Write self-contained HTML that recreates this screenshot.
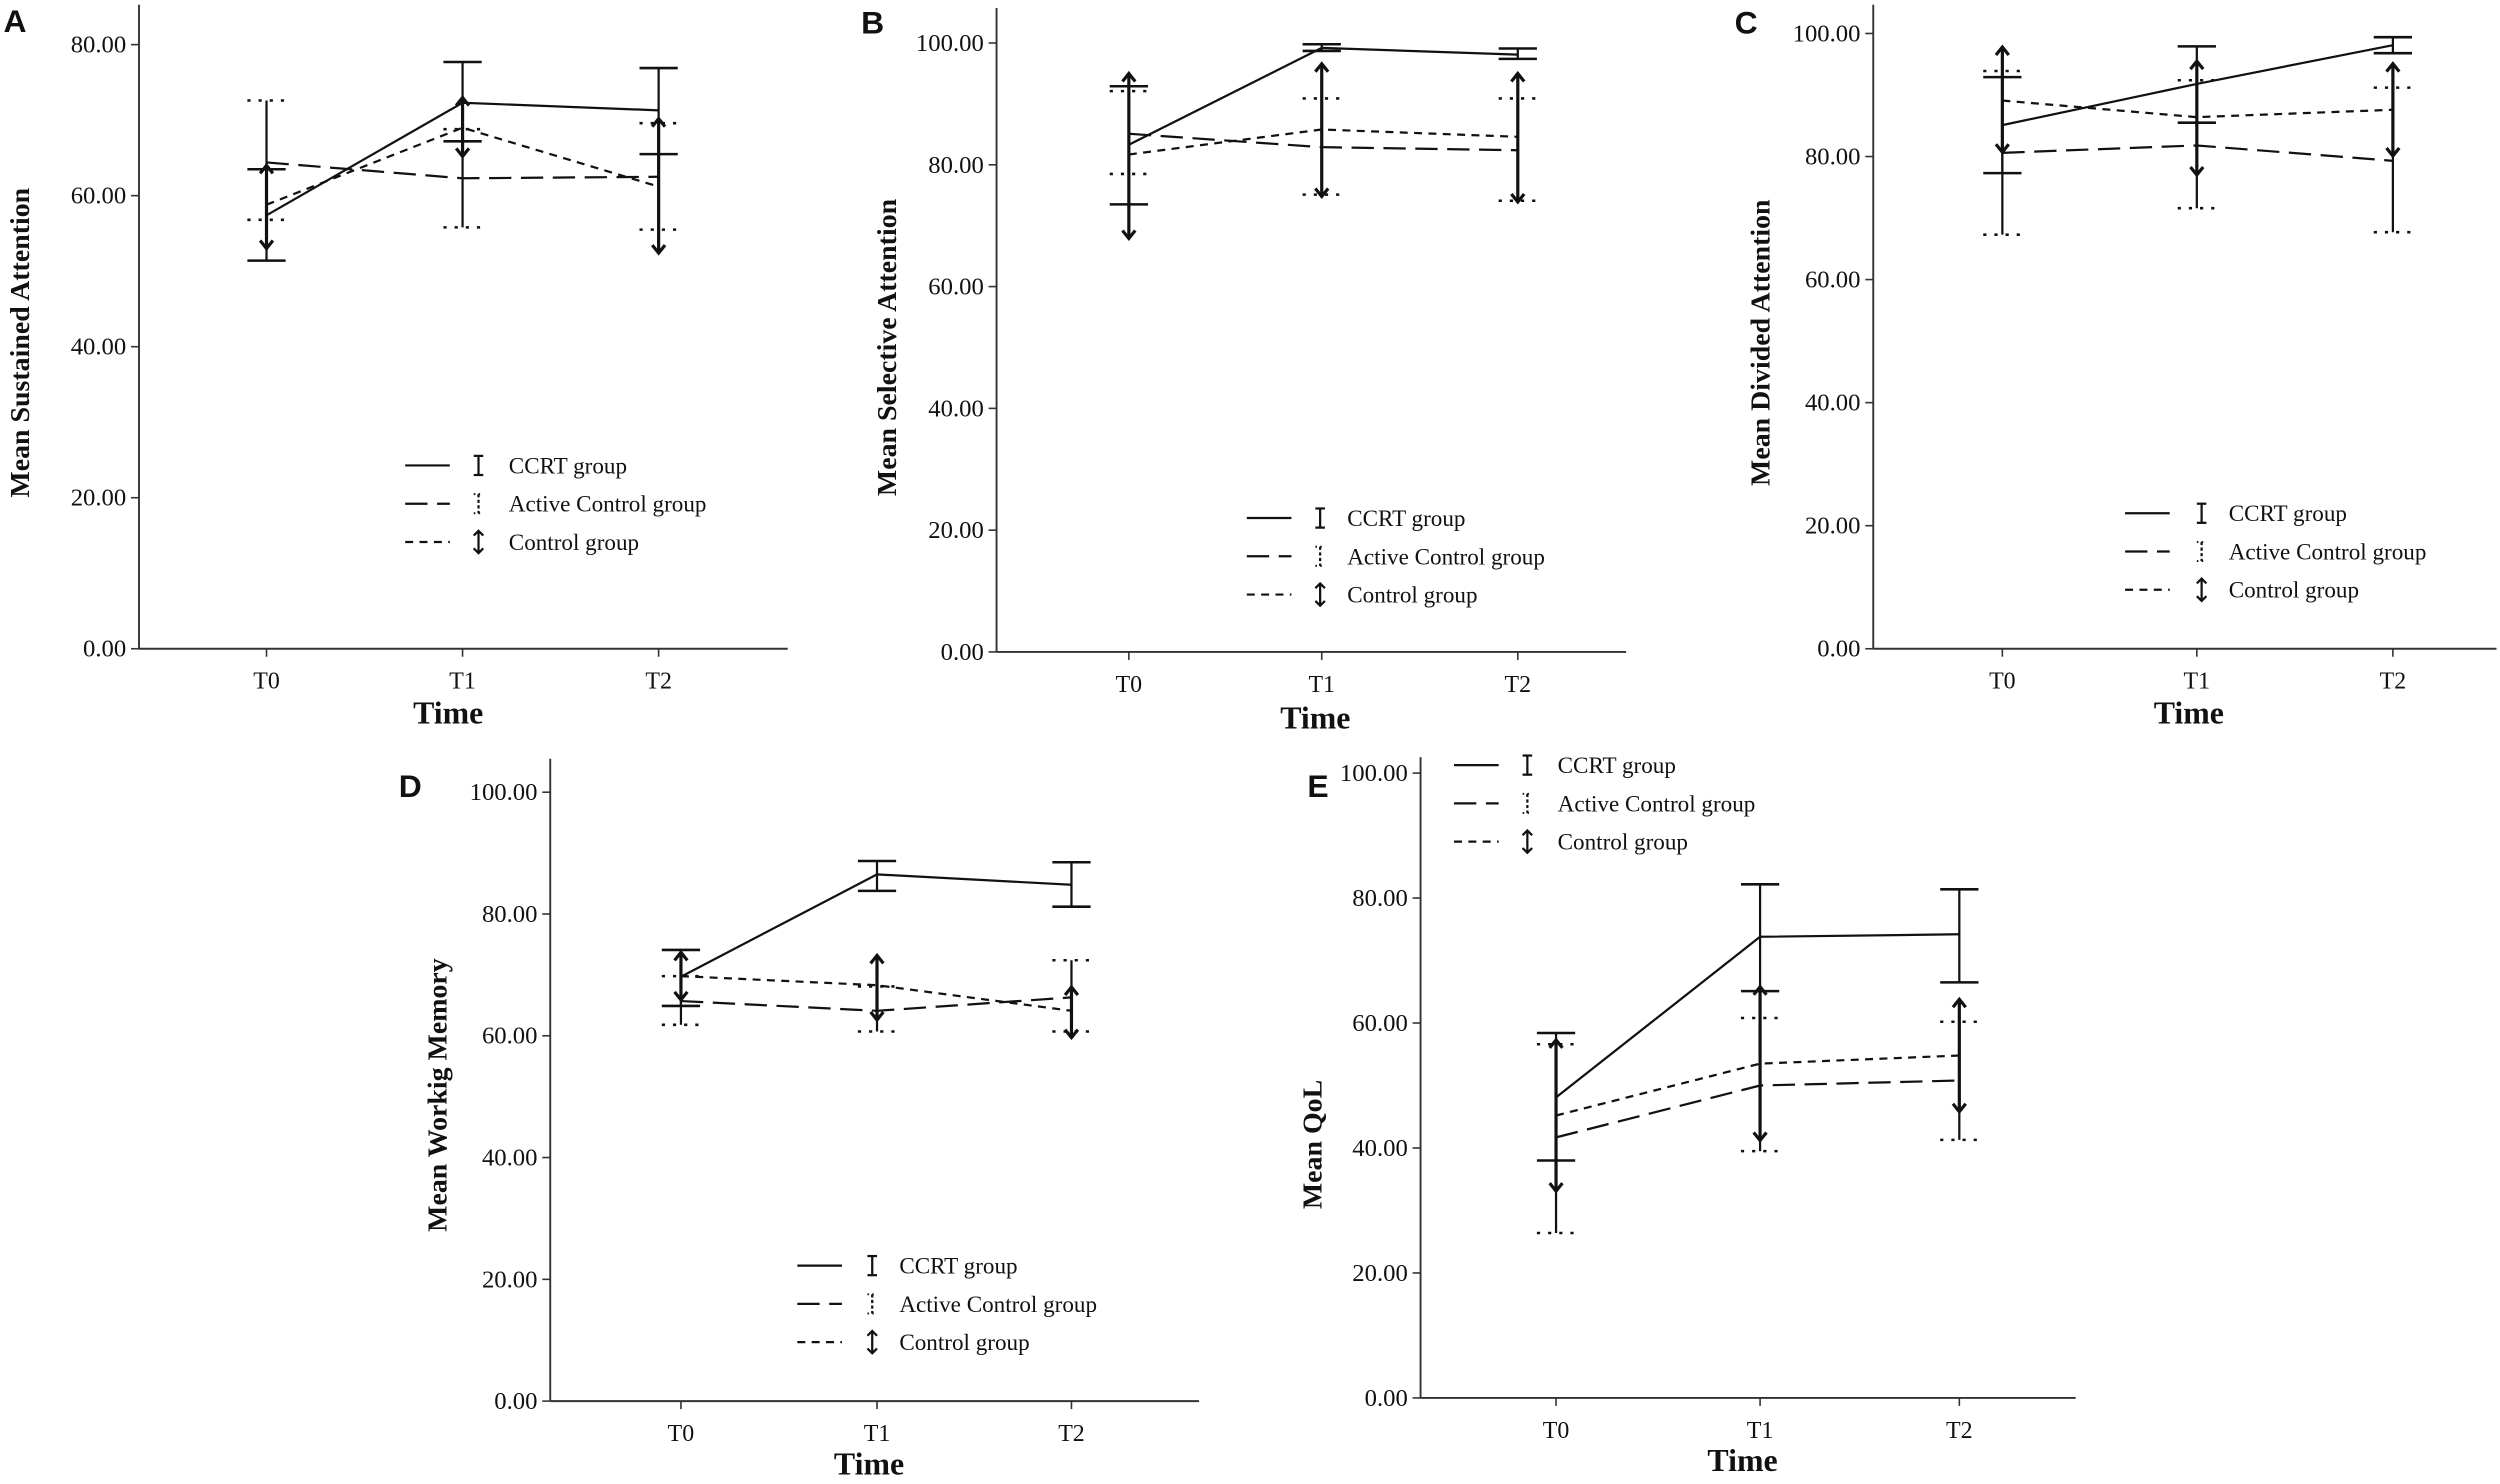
<!DOCTYPE html>
<html><head><meta charset="utf-8"><style>
html,body{margin:0;padding:0;background:#fff}
svg{display:block}
text{font-family:"Liberation Serif",serif;fill:#111}
</style></head><body>
<svg id="fig" width="2500" height="1484" viewBox="0 0 1568 931" xmlns="http://www.w3.org/2000/svg"></svg>
<script>
const times = ["T0","T1","T2"];
const groupNames = ["CCRT group","Active Control group","Control group"];
// Panel A
const aCcrtMean=[57.4,72.3,71.3], aCcrtLo=[51.4,67.2,65.5], aCcrtHi=[63.5,77.7,76.9];
const aActMean=[64.4,62.3,62.5], aActLo=[56.8,55.8,55.5], aActHi=[72.6,68.8,69.6];
const aCtlMean=[58.8,69.0,61.2], aCtlLo=[53.0,65.2,52.4], aCtlHi=[64.0,73.0,70.2];
const aTicks=["0.00","20.00","40.00","60.00","80.00"];
// Panel B
const bCcrtMean=[83.3,99.2,98.1], bCcrtLo=[73.5,98.7,97.4], bCcrtHi=[92.9,99.8,99.1];
const bActMean=[85.1,82.9,82.4], bActLo=[78.5,75.1,74.1], bActHi=[92.1,90.9,90.9];
const bCtlMean=[81.7,85.8,84.6], bCtlLo=[67.9,74.8,73.9], bCtlHi=[95.0,96.6,95.0];
const bTicks=["0.00","20.00","40.00","60.00","80.00","100.00"];
// Panel C
const cCcrtMean=[85.1,91.8,98.1], cCcrtLo=[77.3,85.5,96.8], cCcrtHi=[92.9,97.9,99.4];
const cActMean=[80.6,81.8,79.3], cActLo=[67.3,71.6,67.7], cActHi=[93.9,92.4,91.2];
const cCtlMean=[89.1,86.4,87.6], cCtlLo=[80.7,77.0,80.1], cCtlHi=[97.8,95.5,95.1];
const cTicks=["0.00","20.00","40.00","60.00","80.00","100.00"];
// Panel D
const dCcrtMean=[69.7,86.5,84.8], dCcrtLo=[64.9,83.8,81.2], dCcrtHi=[74.1,88.7,88.5];
const dActMean=[65.7,64.1,66.3], dActLo=[61.8,60.7,60.7], dActHi=[69.8,68.1,72.4];
const dCtlMean=[69.8,68.3,64.1], dCtlLo=[65.9,62.6,59.7], dCtlHi=[73.7,73.2,68.0];
const dTicks=["0.00","20.00","40.00","60.00","80.00","100.00"];
// Panel E
const eCcrtMean=[48.1,73.8,74.2], eCcrtLo=[38.0,65.1,66.5], eCcrtHi=[58.4,82.2,81.4];
const eActMean=[41.7,50.0,50.8], eActLo=[26.4,39.5,41.3], eActHi=[56.6,60.8,60.2];
const eCtlMean=[45.2,53.5,54.8], eCtlLo=[33.1,41.2,45.8], eCtlHi=[57.3,65.8,63.8];
const eTicks=["0.00","20.00","40.00","60.00","80.00","100.00"];

const NS="http://www.w3.org/2000/svg";
const svg=document.getElementById('fig');
function mk(tag,attrs,parent){const e=document.createElementNS(NS,tag);for(const k in attrs)e.setAttribute(k,attrs[k]);(parent||svg).appendChild(e);return e;}

const panels=[
 {id:'a',letter:'A',lx:2,ly:20,ax:87,ay0:407,ayTop:3,yMaxV:80,yMaxPx:28,xEnd:494,tx:[167,290,413],title:'Mean Sustained Attention',tcx:12,tcy:215,timeX:281,timeY:454,leg:{x:254,ic:300,tx:319,y:[292,316,340]},
  s:[[aCcrtMean,aCcrtLo,aCcrtHi],[aActMean,aActLo,aActHi],[aCtlMean,aCtlLo,aCtlHi]],ticks:aTicks},
 {id:'b',letter:'B',lx:540,ly:21,ax:625,ay0:409,ayTop:5,yMaxV:100,yMaxPx:27,xEnd:1020,tx:[708,829,952],title:'Mean Selective Attention',tcx:556,tcy:218,timeX:825,timeY:457,leg:{x:782,ic:828,tx:845,y:[325,349,373]},
  s:[[bCcrtMean,bCcrtLo,bCcrtHi],[bActMean,bActLo,bActHi],[bCtlMean,bCtlLo,bCtlHi]],ticks:bTicks},
 {id:'c',letter:'C',lx:1088,ly:21,ax:1175,ay0:407,ayTop:3,yMaxV:100,yMaxPx:21,xEnd:1566,tx:[1256,1378,1501],title:'Mean Divided Attention',tcx:1104,tcy:215,timeX:1373,timeY:454,leg:{x:1333,ic:1381,tx:1398,y:[322,346,370]},
  s:[[cCcrtMean,cCcrtLo,cCcrtHi],[cActMean,cActLo,cActHi],[cCtlMean,cCtlLo,cCtlHi]],ticks:cTicks},
 {id:'d',letter:'D',lx:250,ly:500,ax:345,ay0:879,ayTop:476,yMaxV:100,yMaxPx:497,xEnd:752,tx:[427,550,672],title:'Mean Workig Memory',tcx:274,tcy:687,timeX:545,timeY:925,leg:{x:500,ic:547,tx:564,y:[794,818,842]},
  s:[[dCcrtMean,dCcrtLo,dCcrtHi],[dActMean,dActLo,dActHi],[dCtlMean,dCtlLo,dCtlHi]],ticks:dTicks},
 {id:'e',letter:'E',lx:820,ly:500,ax:891,ay0:877,ayTop:475,yMaxV:100,yMaxPx:485,xEnd:1302,tx:[976,1104,1229],title:'Mean QoL',tcx:823,tcy:718,timeX:1093,timeY:923,leg:{x:912,ic:958,tx:977,y:[480,504,528]},
  s:[[eCcrtMean,eCcrtLo,eCcrtHi],[eActMean,eActLo,eActHi],[eCtlMean,eCtlLo,eCtlHi]],ticks:eTicks}
];
const dashes=['none','14,6','5,4'];

function chevron(g,x,y,dir){ // dir -1 up, +1 down
  const p=mk('path',{d:`M${x-4} ${y-dir*5} L${x} ${y} L${x+4} ${y-dir*5}`,fill:'none',stroke:'#111','stroke-width':2},g);
  
  
}

panels.forEach(P=>{
  const g=mk('g',{});
  
  
  const y=v=>P.ay0-(v/P.yMaxV)*(P.ay0-P.yMaxPx);
  const L=mk('text',{x:P.lx,y:P.ly,'font-weight':'bold','font-size':20},g);
  L.textContent=P.letter;L.style.fontFamily='"Liberation Sans",sans-serif';
  
  const ya=mk('line',{x1:P.ax,y1:P.ayTop,x2:P.ax,y2:P.ay0,stroke:'#333','stroke-width':1.2},g);
  
  const xa=mk('line',{x1:P.ax,y1:P.ay0,x2:P.xEnd,y2:P.ay0,stroke:'#333','stroke-width':1.2},g);
  
  P.ticks.forEach((t,i)=>{
    const v=i*20, yy=y(v);
    mk('line',{x1:P.ax-5,y1:yy,x2:P.ax,y2:yy,stroke:'#333','stroke-width':1},g);
    const tt=mk('text',{x:P.ax-8,y:yy+5,'text-anchor':'end','font-size':15.5},g);tt.textContent=t;
    
  });
  times.forEach((t,i)=>{
    mk('line',{x1:P.tx[i],y1:P.ay0,x2:P.tx[i],y2:P.ay0+5,stroke:'#333','stroke-width':1},g);
    const tt=mk('text',{x:P.tx[i],y:P.ay0+25,'text-anchor':'middle','font-size':15},g);tt.textContent=t;
    
  });
  const yt=mk('text',{x:0,y:0,'text-anchor':'middle','font-size':17.5,'font-weight':'bold',transform:`translate(${P.tcx+6},${P.tcy}) rotate(-90)`},g);
  yt.textContent=P.title;
  const xt=mk('text',{x:P.timeX,y:P.timeY,'text-anchor':'middle','font-size':20,'font-weight':'bold'},g);
  xt.textContent='Time';
  P.s.forEach((S,k)=>{
    const [m,lo,hi]=S;
    const pts=m.map((v,i)=>P.tx[i]+','+y(v)).join(' ');
    const pl=mk('polyline',{points:pts,fill:'none',stroke:'#111','stroke-width':1.4,'stroke-dasharray':dashes[k]},g);
    
    
    m.forEach((v,i)=>{
      const x=P.tx[i];
      const el=mk('line',{x1:x,y1:y(lo[i]),x2:x,y2:y(hi[i]),stroke:'#111','stroke-width':k==2?2:1.4},g);
      
      
      if(k==0){[lo[i],hi[i]].forEach(c=>mk('line',{x1:x-12,y1:y(c),x2:x+12,y2:y(c),stroke:'#111','stroke-width':1.6},g));}
      else if(k==1){[lo[i],hi[i]].forEach(c=>mk('line',{x1:x-12,y1:y(c),x2:x+12,y2:y(c),stroke:'#111','stroke-width':1.6,'stroke-dasharray':'2,5'},g));}
      else {chevron(g,x,y(hi[i]),-1);chevron(g,x,y(lo[i]),1);}
    });
  });
  const lg=mk('g',{},g);
  
  groupNames.forEach((n,k)=>{
    const yy=P.leg.y[k];
    mk('line',{x1:P.leg.x,y1:yy,x2:P.leg.x+28,y2:yy,stroke:'#111','stroke-width':1.4,'stroke-dasharray':dashes[k]},lg);
    const ic=P.leg.ic;
    if(k==0){
      mk('line',{x1:ic,y1:yy-6,x2:ic,y2:yy+6,stroke:'#111','stroke-width':1.4},lg);
      mk('line',{x1:ic-3,y1:yy-6,x2:ic+3,y2:yy-6,stroke:'#111','stroke-width':1.4},lg);mk('line',{x1:ic-3,y1:yy+6,x2:ic+3,y2:yy+6,stroke:'#111','stroke-width':1.4},lg);}
    else if(k==1){
      mk('line',{x1:ic,y1:yy-6,x2:ic,y2:yy+6,stroke:'#111','stroke-width':1.4,'stroke-dasharray':'2,1.5'},lg);
      mk('line',{x1:ic-3,y1:yy-6,x2:ic+3,y2:yy-6,stroke:'#111','stroke-width':1.2,'stroke-dasharray':'1,2'},lg);mk('line',{x1:ic-3,y1:yy+6,x2:ic+3,y2:yy+6,stroke:'#111','stroke-width':1.2,'stroke-dasharray':'1,2'},lg);}
    else {
      mk('line',{x1:ic,y1:yy-7,x2:ic,y2:yy+7,stroke:'#111','stroke-width':1.4},lg);
      mk('path',{d:`M${ic-3} ${yy-4} L${ic} ${yy-7} L${ic+3} ${yy-4} M${ic-3} ${yy+4} L${ic} ${yy+7} L${ic+3} ${yy+4}`,fill:'none',stroke:'#111','stroke-width':1.4},lg);}
    const t=mk('text',{x:P.leg.tx,y:yy+5,'font-size':14.5},lg);t.textContent=n;
    
  });
});
</script>
</body></html>
